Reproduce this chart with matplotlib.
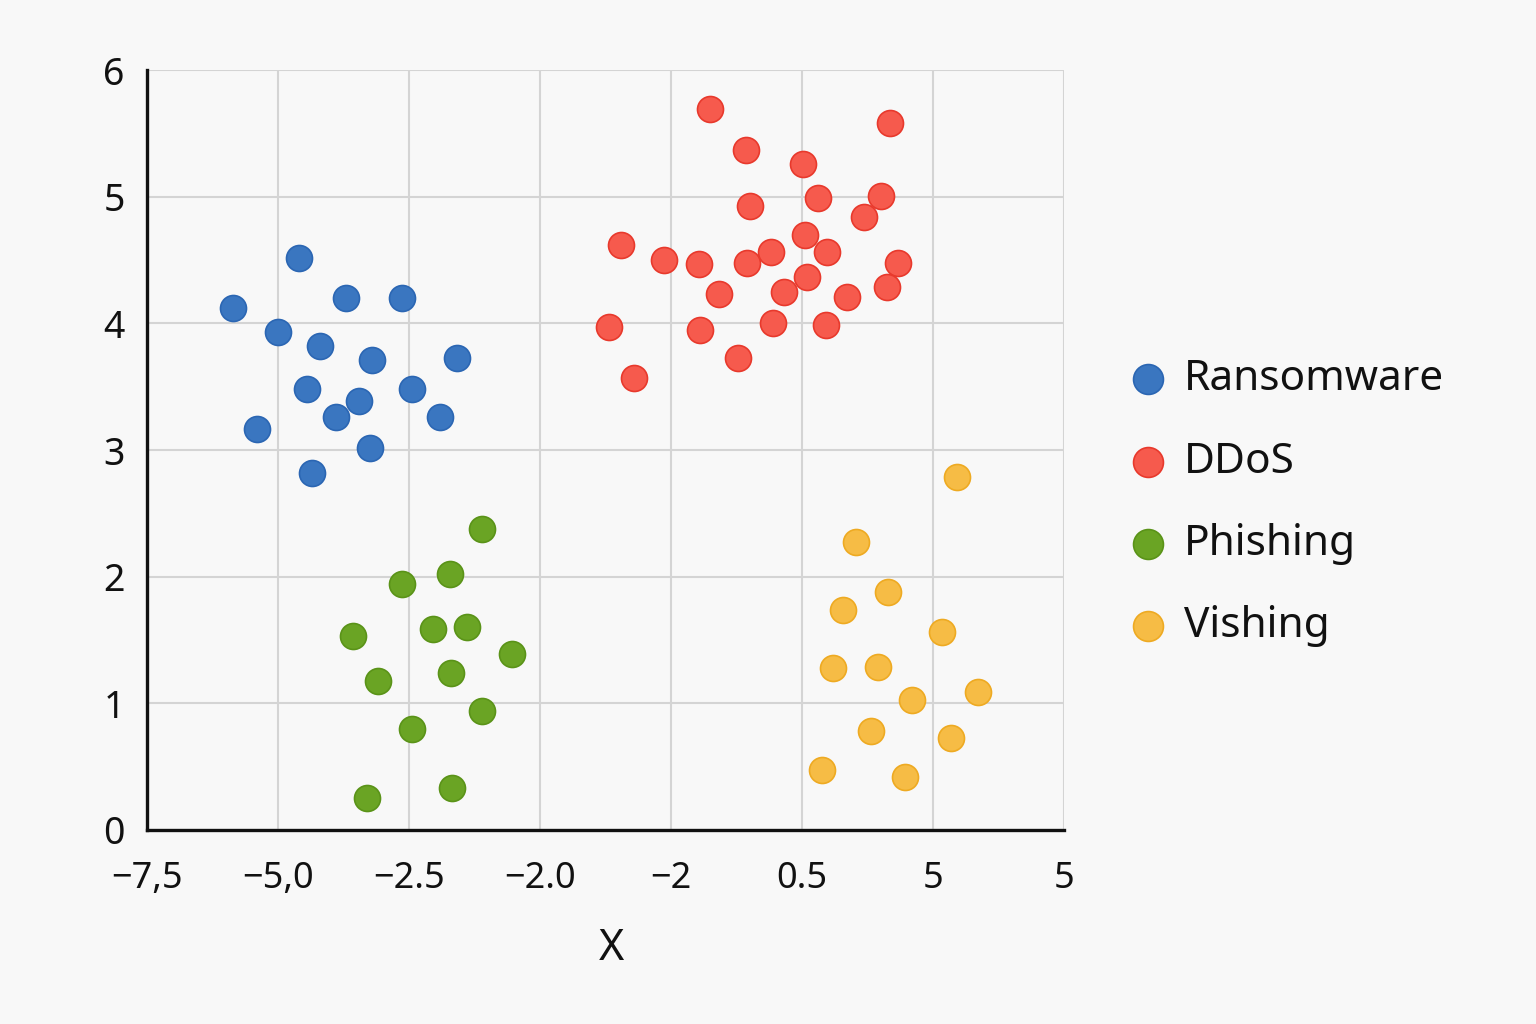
import numpy as np
import matplotlib
matplotlib.use('Agg')
import matplotlib.pyplot as plt

# x positions are in tick-slot units (0..7), labels are taken from the picture
x_ticklabels = ['\u22127,5', '\u22125,0', '\u22122.5', '\u22122.0', '\u22122', '0.5', '5', '5']
y_ticks = [0, 1, 2, 3, 4, 5, 6]

ransom_x = [0.66, 1.16, 1.00, 1.52, 1.95, 1.32, 1.72, 2.37, 1.22, 1.62, 2.02, 1.44, 2.24, 0.84, 1.70, 1.26]
ransom_y = [4.12, 4.52, 3.93, 4.20, 4.20, 3.82, 3.71, 3.73, 3.48, 3.39, 3.48, 3.26, 3.26, 3.17, 3.02, 2.82]

ddos_x = [4.30, 5.67, 4.57, 5.01, 5.12, 5.60, 4.60, 5.47, 3.62, 3.95, 4.21, 4.58, 4.76, 5.02,
          5.19, 5.73, 4.37, 4.86, 5.04, 5.34, 5.65, 3.53, 4.22, 4.78, 5.18, 4.51, 3.72]
ddos_y = [5.69, 5.58, 5.37, 5.26, 4.99, 5.01, 4.93, 4.84, 4.62, 4.50, 4.47, 4.48, 4.56, 4.70,
          4.56, 4.48, 4.23, 4.25, 4.37, 4.21, 4.29, 3.97, 3.95, 4.00, 3.99, 3.73, 3.57]

phish_x = [2.56, 1.95, 2.31, 1.57, 2.18, 2.44, 2.79, 1.76, 2.32, 2.56, 2.02, 1.68, 2.33]
phish_y = [2.38, 1.94, 2.02, 1.53, 1.59, 1.60, 1.39, 1.18, 1.24, 0.94, 0.80, 0.25, 0.33]

vish_x = [6.18, 5.41, 5.66, 5.31, 6.07, 5.24, 5.58, 6.34, 5.84, 5.53, 6.14, 5.15, 5.79]
vish_y = [2.79, 2.27, 1.88, 1.74, 1.56, 1.28, 1.29, 1.09, 1.03, 0.78, 0.73, 0.47, 0.42]

bg = '#f8f8f8'
plt.rcParams['font.family'] = ['Noto Sans', 'DejaVu Sans']

fig = plt.figure(figsize=(15.36, 10.24), dpi=100, facecolor=bg)
ax = fig.add_axes([0.0957, 0.1895, 0.597, 0.742])
ax.set_facecolor(bg)

groups = [
    ('Ransomware', ransom_x, ransom_y, '#3a76c0', '#2b66b3'),
    ('DDoS', ddos_x, ddos_y, '#f65a4d', '#e8392c'),
    ('Phishing', phish_x, phish_y, '#6aa424', '#5a9318'),
    ('Vishing', vish_x, vish_y, '#f6bc45', '#eeaa22'),
]
for name, xs, ys, fc, ec in groups:
    ax.scatter(xs, ys, s=350, color=fc, edgecolors=ec, linewidths=1.2, label=name, zorder=3)

ax.set_xlim(0, 7)
ax.set_ylim(0, 6)
ax.set_xticks(range(8))
ax.set_xticklabels(x_ticklabels, fontsize=26, color='#111111')
ax.set_yticks(y_ticks)
ax.set_yticklabels([str(v) for v in y_ticks], fontsize=27, color='#111111')
ax.tick_params(axis='x', length=0, pad=22)
ax.tick_params(axis='y', length=0, pad=16)
ax.grid(True, color='#d4d4d4', linewidth=1.5, zorder=0)
ax.set_axisbelow(True)
for s in ['top', 'right']:
    ax.spines[s].set_visible(False)
for s in ['left', 'bottom']:
    ax.spines[s].set_linewidth(2.4)
    ax.spines[s].set_color('#111111')
ax.set_xlabel('X', fontsize=31, color='#111111')
ax.xaxis.set_label_coords(0.507, -0.128)

leg = fig.legend(loc='center left', bbox_to_anchor=(0.709, 0.509), frameon=False,
                 fontsize=30.5, markerscale=1.15, handletextpad=0.35, labelspacing=0.95,
                 handlelength=1.0)
for t in leg.get_texts():
    t.set_color('#111111')

fig.savefig('out.png', dpi=100, facecolor=bg)
